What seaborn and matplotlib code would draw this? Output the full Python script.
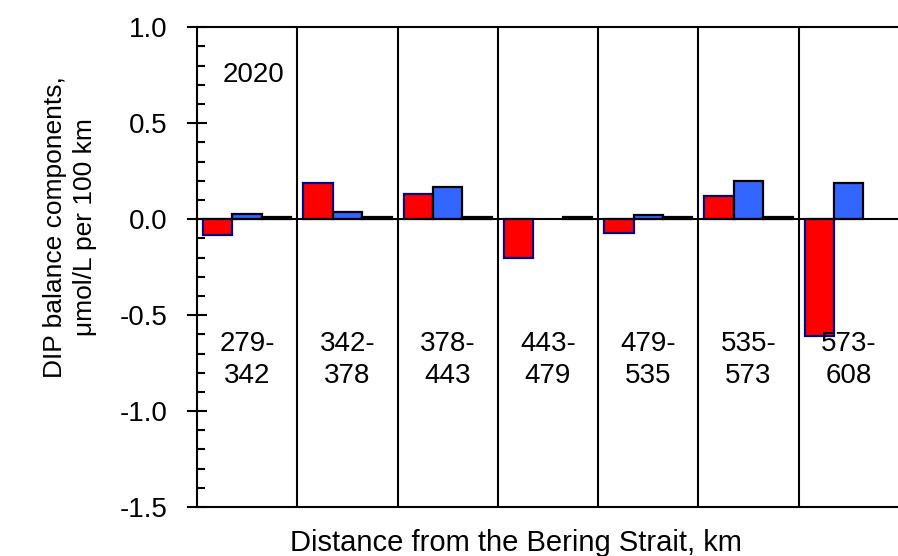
import numpy as np
import pandas as pd
import matplotlib
matplotlib.use("Agg")
import matplotlib.pyplot as plt
import seaborn as sns
from matplotlib.ticker import MultipleLocator, FormatStrFormatter

# ---- data ----
segments = ["279-\n342", "342-\n378", "378-\n443", "443-\n479",
            "479-\n535", "535-\n573", "573-\n608"]
red_vals = [-0.08, 0.19, 0.13, -0.20, -0.07, 0.12, -0.61]
blue_vals = [0.025, 0.035, 0.17, np.nan, 0.024, 0.20, 0.19]
black_vals = [0.01, 0.01, 0.01, 0.01, 0.01, 0.01, np.nan]
year_label = "2020"

series_names = ["red", "blue", "black"]
fills = ["#FF0000", "#3366FF", "#000000"]
edges = ["#000080", "#000000", "#000000"]

df = pd.DataFrame({
    "segment": segments * 3,
    "series": np.repeat(series_names, len(segments)),
    "value": red_vals + blue_vals + black_vals,
})

sns.set_style("ticks")
plt.rcParams["font.family"] = ["Liberation Sans", "DejaVu Sans"]
plt.rcParams["text.color"] = "black"
plt.rcParams["axes.labelcolor"] = "black"
plt.rcParams["ytick.color"] = "black"

fig = plt.figure(figsize=(8.98, 5.56), dpi=100)
ax = fig.add_axes([0.2194, 0.088, 0.7816, 0.863])

sns.barplot(data=df, x="segment", y="value", hue="series",
            palette=dict(zip(series_names, fills)), width=0.88,
            saturation=1, legend=False, ax=ax, linewidth=1.6)

for cont, ec in zip(ax.containers, edges):
    for bar in cont:
        bar.set_edgecolor(ec)

# separators between segments and the zero line
for i in range(len(segments) - 1):
    ax.axvline(i + 0.5, color="black", lw=1.5, zorder=0)
ax.axhline(0, color="black", lw=1.5, zorder=3)

# segment labels inside the plot
for i, lab in enumerate(segments):
    ax.text(i, -0.735, lab, ha="center", va="center", fontsize=20,
            linespacing=1.32)

ax.text(0.06, 0.75, year_label, ha="center", va="center", fontsize=20)

ax.set_xlim(-0.5, len(segments) - 0.5)
ax.set_ylim(-1.5, 1.0)
ax.yaxis.set_major_locator(MultipleLocator(0.5))
ax.yaxis.set_minor_locator(MultipleLocator(0.1))
ax.yaxis.set_major_formatter(FormatStrFormatter("%.1f"))
ax.tick_params(axis="y", which="major", direction="inout", length=15,
               width=1.5, labelsize=20, pad=14)
ax.tick_params(axis="y", which="minor", direction="in", length=6, width=1.5)
ax.tick_params(axis="x", bottom=False, labelbottom=False)

for side in ["left", "bottom", "top"]:
    ax.spines[side].set_linewidth(1.5)
    ax.spines[side].set_color("black")
ax.spines["right"].set_visible(False)

ax.set_xlabel("Distance from the Bering Strait, km", fontsize=21)
ax.xaxis.set_label_coords(0.454, -0.045)
ax.xaxis.label.set_va("top")
ax.set_ylabel("DIP balance components,\nμmol/L per 100 km", fontsize=19,
              linespacing=1.3)
ax.yaxis.set_label_coords(-0.143, 0.583)

fig.savefig("out.png", dpi=100)
